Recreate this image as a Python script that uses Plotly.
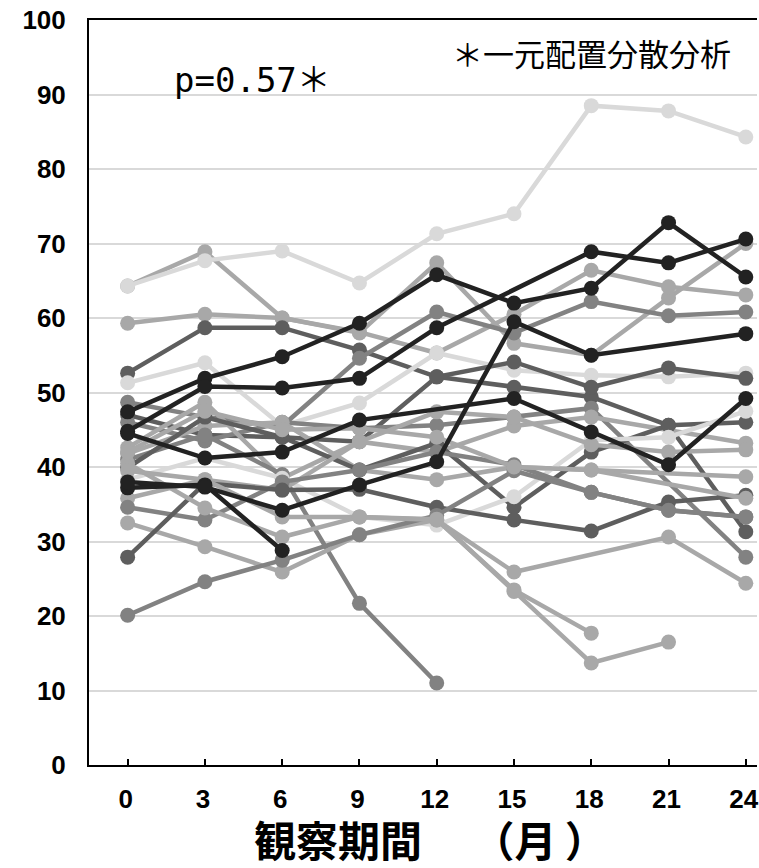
import plotly.graph_objects as go

months = [0, 3, 6, 9, 12, 15, 18, 21, 24]
x_tick_labels = ["0", "3", "6", "9", "12", "15", "18", "21", "24"]
y_ticks = [0, 10, 20, 30, 40, 50, 60, 70, 80, 90, 100]

N = None
# patient series (value per month), grouped by shade
gray_series = [
    ("a", [64.3, 68.9, 60.0, 58.0, 67.4, 56.6, 55.0, 62.7, 70.0]),
    ("a", [59.3, 60.5, 60.0, 58.1, 55.3, 60.5, 66.4, 64.2, 63.1]),
    ("d", [52.6, 58.7, 58.7, 55.7, 52.1, 50.7, 49.4, 45.6, 31.3]),
    ("l", [51.3, 54.0, 45.5, 48.6, 55.3, 53.0, 52.3, 52.1, 52.6]),
    ("m", [48.7, 46.7, 45.5, 54.6, 60.8, 58.0, 62.2, 60.3, 60.8]),
    ("d", [47.0, 44.3, 44.0, 43.4, 52.1, 54.1, 50.7, 53.3, 51.9]),
    ("m", [46.0, 43.5, 46.0, 45.2, 45.6, 46.7, 47.9, N, 27.9]),
    ("a", [42.6, 48.7, 38.5, 43.4, 42.0, 45.5, 46.7, N, 43.2]),
    ("a", [41.8, 45.5, 46.0, 39.6, 38.3, 40.0, 39.6, N, 38.7]),
    ("m", [41.0, 44.3, 39.0, 21.7, 11.0, N, N, N, N]),
    ("d", [39.9, 46.7, 44.0, 39.6, 43.2, 34.6, 42.0, 45.6, 46.0]),
    ("l", [38.3, 41.2, 38.5, 33.3, 32.2, 36.0, 43.6, 44.0, 47.5]),
    ("a", [35.8, 38.3, 36.9, 43.4, 47.4, 46.7, 43.0, 42.0, 42.3]),
    ("m", [34.6, 32.9, 38.0, 39.6, 42.0, 40.3, 36.6, 34.2, 33.3]),
    ("a", [32.5, 29.3, 25.9, 30.9, 32.9, 23.5, 17.7, N, N]),
    ("d", [27.9, 37.8, 36.9, 37.0, 34.6, 32.9, 31.4, 35.3, 36.2]),
    ("m", [20.1, 24.6, 27.5, 30.9, 33.5, 39.5, 36.6, 34.2, 33.3]),
    ("a", [40.5, 34.5, 30.6, 33.3, 32.9, 25.9, N, 30.6, 24.4]),
    ("a", [39.5, 38.3, 33.3, 33.3, 33.0, 23.3, 13.7, 16.5, N]),
    ("a", [42.0, 47.5, 45.0, 45.2, 44.0, 40.0, 39.6, N, 35.8]),
]
black_series = [
    [47.4, 51.9, 54.8, 59.3, 65.8, 62.0, 64.0, 72.8, 65.5],
    [44.8, 50.8, 50.6, 51.9, 58.7, N, 68.9, 67.4, 70.6],
    [44.5, 41.2, 42.0, 46.3, N, 49.2, 44.7, 40.3, 49.2],
    [37.2, 37.6, 28.8, N, N, N, N, N, N],
    [38.0, 37.3, 34.2, 37.6, 40.7, 59.5, 55.0, N, 57.9],
]
top_series = [64.3, 67.7, 69.0, 64.7, 71.3, 74.0, 88.5, 87.8, 84.3]

shade = {"k": "#222222", "d": "#5e5e5e", "m": "#828282", "a": "#a8a8a8", "l": "#d9d9d9"}

fig = go.Figure()

def add(vals, color):
    fig.add_trace(go.Scatter(
        x=months, y=vals, mode="lines+markers", connectgaps=True,
        line=dict(color=color, width=4.5),
        marker=dict(color=color, size=15),
        showlegend=False, hoverinfo="skip"))

for s, vals in gray_series:
    add(vals, shade[s])
for vals in black_series:
    add(vals, shade["k"])
add(top_series, shade["l"])

tick_font = dict(family="Liberation Sans Narrow, Liberation Sans, Arial", size=26,
                 color="black", weight="bold")

fig.update_layout(
    width=759, height=868,
    margin=dict(l=89, r=0, t=20, b=103),
    paper_bgcolor="white", plot_bgcolor="white",
    xaxis=dict(
        range=[-1.5, 24.435], tickvals=months, ticktext=x_tick_labels,
        showgrid=False, zeroline=False,
        showline=True, linecolor="black", linewidth=2, mirror=True,
        ticks="inside", ticklen=6, tickwidth=1.5, tickcolor="black",
        tickfont=tick_font, ticklabelstandoff=10, ticklabeloverflow="allow",
        ticklabelshift=-2,
    ),
    yaxis=dict(
        range=[0, 100], tickvals=y_ticks,
        showgrid=True, gridcolor="#d9d9d9", gridwidth=2,
        zeroline=False,
        showline=True, linecolor="black", linewidth=2,
        ticks="", tickfont=tick_font, ticklabelstandoff=16,
        ticklabeloverflow="allow",
    ),
)
# x-axis title
fig.add_annotation(text="<b>観察期間　\u2009（月\u2009）</b>", x=0.5105, y=-0.099,
                   xref="paper", yref="paper", xanchor="center", yanchor="middle",
                   showarrow=False,
                   font=dict(family="Noto Sans CJK JP", size=42, color="black"))
fig.add_annotation(text="p=0.57＊", x=1.71, y=91.9, xref="x", yref="y",
                   xanchor="left", yanchor="middle", showarrow=False,
                   font=dict(family="DejaVu Sans Mono, Noto Sans CJK JP", size=34, color="black"))
fig.add_annotation(text="＊一元配置分散分析", x=23.5, y=95.7, xref="x", yref="y",
                   xanchor="right", yanchor="middle", showarrow=False,
                   font=dict(family="Noto Sans CJK JP", size=31, color="black"))

fig.write_html("out.html",
               config={"displayModeBar": False},
               post_script="document.body.style.margin='0';document.body.style.overflow='hidden';")
